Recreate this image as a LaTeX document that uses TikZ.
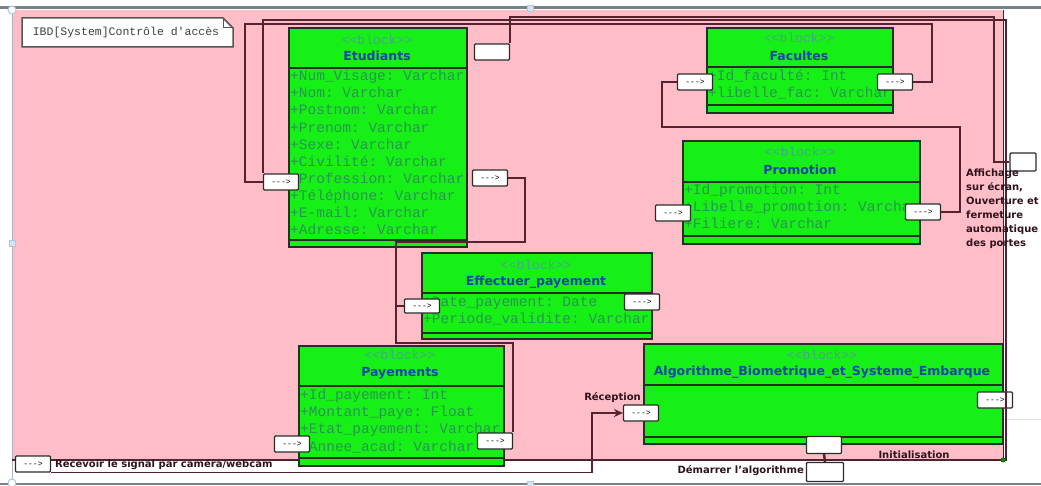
\documentclass[tikz,border=0pt]{standalone}
\usepackage{fontspec}
\setmainfont{DejaVu Sans}
\setmonofont{Liberation Mono}
\usetikzlibrary{arrows.meta,positioning}

\definecolor{rose}{RGB}{255,189,200}
\definecolor{vert}{RGB}{22,240,22}
\definecolor{vertfonce}{RGB}{40,150,80}
\definecolor{sterco}{RGB}{70,165,140}
\definecolor{bleu}{RGB}{25,70,165}
\definecolor{trait}{RGB}{85,35,48}
\definecolor{bord}{RGB}{40,45,40}
\definecolor{cadre}{RGB}{120,128,138}
\definecolor{poignee}{RGB}{170,200,228}

\begin{document}
\begin{tikzpicture}[x=1pt, y=-1pt, >=Stealth,
  blk/.style={draw=bord, fill=vert, line width=1.8pt, anchor=north west, inner sep=0pt},
  stereo/.style={font=\fontsize{13}{13}\ttfamily, text=sterco, inner sep=0pt},
  nom/.style={font=\fontsize{12.5}{13}\bfseries, text=bleu, inner sep=0pt},
  attr/.style={anchor=north west, align=left, inner sep=0pt, font=\fontsize{14.5}{17.1}\ttfamily, text=vertfonce},
  port/.style={draw=bord, fill=white, line width=1.2pt, rounded corners=1pt, minimum width=35pt, minimum height=16pt, inner sep=0pt, font=\fontsize{8}{8}\ttfamily},
  lien/.style={draw=trait, line width=1.6pt},
  lbl/.style={font=\fontsize{10}{10}\bfseries, text=trait!55!black, inner sep=1pt}]
  \useasboundingbox (0,0) rectangle (1041,486);
  \fill[white] (0,0) rectangle (1041,486);
  \fill[rose] (12,10) rectangle (1003,460);
  \draw[black!12, line width=0.8pt] (1003,419) -- (1041,419);
  \draw[cadre, line width=3pt] (0,8) -- (1041,8);
  \draw[cadre, line width=2pt] (0,484) -- (1041,484);
  \draw[cadre!60, line width=1pt] (12,8) -- (12,484);
  \draw[bord, line width=1pt] (1003,10) -- (1003,460);
  \draw[trait, line width=1.2pt] (12,460) -- (1003,460);

  \filldraw[fill=white, draw=bord!80, line width=1.5pt] (22,18) -- (223,18) -- (233,28) -- (233,47) -- (22,47) -- cycle;
  \draw[bord!80, line width=1pt] (223,18) -- (223,28) -- (233,28);
  \node[font=\fontsize{11.5}{12}\ttfamily, text=black!75, inner sep=0pt] (titre) at (126,33) {IBD[System]Contrôle d'accès};

  \node[blk, minimum width=178pt, minimum height=219pt] (etu) at (288,27) {};
  \draw[bord, line width=1.5pt] (288,68) -- (466,68) (288,240) -- (466,240);
  \node[stereo] (etu-s) at (377,40) {<{}<block>{}>};
  \node[nom] (etu-n) at (377,56) {Etudiants};
  \node[attr] (etu-a) at (290,70) {+Num\_Visage: Varchar\\+Nom: Varchar\\+Postnom: Varchar\\+Prenom: Varchar\\+Sexe: Varchar\\+Civilité: Varchar\\+Profession: Varchar\\+Téléphone: Varchar\\+E-mail: Varchar\\+Adresse: Varchar};

  \node[blk, minimum width=186pt, minimum height=85pt] (fac) at (706,27) {};
  \draw[bord, line width=1.5pt] (706,67) -- (892,67) (706,105) -- (892,105);
  \node[stereo] (fac-s) at (799,38) {<{}<block>{}>};
  \node[nom] (fac-n) at (799,56) {Facultes};
  \node[attr] (fac-a) at (708,70) {+Id\_faculté: Int\\+libelle\_fac: Varchar};

  \node[blk, minimum width=237pt, minimum height=103pt] (pro) at (682,140) {};
  \draw[bord, line width=1.5pt] (682,182) -- (919,182) (682,236) -- (919,236);
  \node[stereo] (pro-s) at (800,152) {<{}<block>{}>};
  \node[nom] (pro-n) at (800,170) {Promotion};
  \node[attr] (pro-a) at (684,184) {+Id\_promotion: Int\\+Libelle\_promotion: Varchar\\+Filiere: Varchar};

  \node[blk, minimum width=230pt, minimum height=86pt] (eff) at (421,252) {};
  \draw[bord, line width=1.5pt] (421,293) -- (651,293) (421,333) -- (651,333);
  \node[stereo] (eff-s) at (536,265) {<{}<block>{}>};
  \node[nom] (eff-n) at (536,282) {Effectuer\_payement};
  \node[attr] (eff-a) at (423,297) {+Date\_payement: Date\\+Periode\_validite: Varchar};

  \node[blk, minimum width=205pt, minimum height=120pt] (pay) at (298,345) {};
  \draw[bord, line width=1.5pt] (298,386) -- (503,386) (298,458) -- (503,458);
  \node[stereo] (pay-s) at (400,355) {<{}<block>{}>};
  \node[nom] (pay-n) at (400,373) {Payements};
  \node[attr] (pay-a) at (300,389) {+Id\_payement: Int\\+Montant\_paye: Float\\+Etat\_payement: Varchar\\+Annee\_acad: Varchar};

  \node[blk, minimum width=359pt, minimum height=100pt] (alg) at (643,343) {};
  \draw[bord, line width=1.5pt] (643,385) -- (1002,385) (643,437) -- (1002,437);
  \node[stereo] (alg-s) at (822,355) {<{}<block>{}>};
  \node[nom] (alg-n) at (822,372) {Algorithme\_Biometrique\_et\_Systeme\_Embarque};

  \node[port] (etuL) at (281,182) {-{}-{}->};
  \node[port] (etuR) at (490,178) {-{}-{}->};
  \node[port] (vide) at (492,52) {};
  \node[port] (facL) at (695,82) {-{}-{}->};
  \node[port] (facR) at (895,82) {-{}-{}->};
  \node[port] (proL) at (673,213) {-{}-{}->};
  \node[port] (proR) at (923,212) {-{}-{}->};
  \node[port, minimum height=14pt] (effL) at (422,306) {-{}-{}->};
  \node[port] (effR) at (642,302) {-{}-{}->};
  \node[port] (payL) at (292,444) {-{}-{}->};
  \node[port] (payR) at (495,441) {-{}-{}->};
  \node[port] (rec) at (641,413) {-{}-{}->};
  \node[port] (algR) at (995,400) {-{}-{}->};
  \node[port, minimum height=17pt] (algB) at (824,445) {};
  \node[port, minimum width=37pt, minimum height=19pt] (dem) at (825,472) {};
  \node[port, minimum width=26pt, minimum height=18pt] (aff) at (1023,162) {};
  \node[port] (sig) at (33,464) {-{}-{}->};
  \coordinate (jonction) at (396,306);
  \coordinate (fin) at (1003,460);

  \draw[lien] (etuL.west) -| (245,24) -| (932,82) -- (facR.east);
  \draw[lien] (etuL.north west) |- (1006,20) |- (fin);
  \draw[lien] (vide.north east) |- (994,17) |- (aff.west);
  \draw[lien] (facL.west) -| (662,127) -| (960,212) -- (proR.east);
  \draw[lien] (etuR.east) -| (525,242) -| (396,343) -| (payR.north east);
  \draw[lien] (jonction) -- (effL.west);
  \draw[lien, -{Stealth[length=9pt,width=8pt]}] (sig.south east) -| (592,413) -- (rec.west);
  \draw[lien, line width=2.5pt] (algB.south) -- (dem.north);
  \filldraw[fill=green!60!black, draw=green!30!black] (fin) circle (2.2pt);

  \node[lbl, anchor=south west] (sig-l) at (54,471) {Recevoir le signal par caméra/webcam};
  \node[lbl, anchor=south east] (rec-l) at (642,404) {Réception};
  \node[lbl, anchor=east] (dem-l) at (805,471) {Démarrer l'algorithme};
  \node[lbl] (init-l) at (914,455) {Initialisation};
  \node[lbl, anchor=north west, align=left, font=\fontsize{10}{14}\bfseries] (aff-l) at (965,168) {Affichage\\sur écran,\\Ouverture et\\fermeture\\automatique\\des portes};

  \filldraw[fill=white, draw=poignee, line width=1pt] (12,10) circle (4pt) (12,483) circle (4pt);
  \filldraw[fill=poignee!50, draw=poignee, line width=0.8pt] (527,5) rectangle (533,11) (9,240) rectangle (15,246) (527,481) rectangle (533,487);
\end{tikzpicture}
\end{document}
